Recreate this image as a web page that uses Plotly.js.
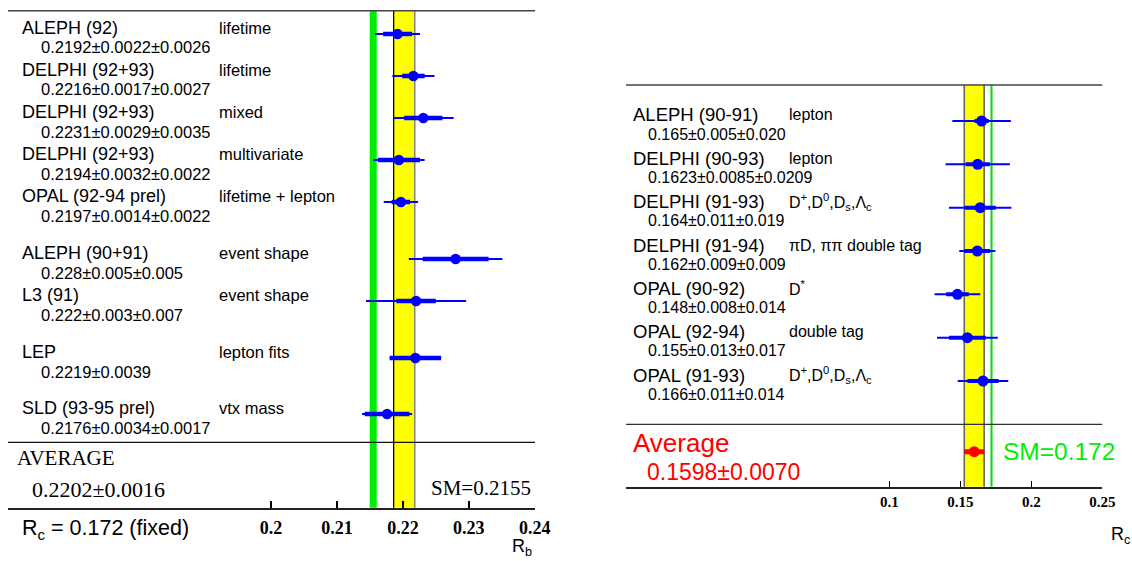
<!DOCTYPE html>
<html>
<head>
<meta charset="utf-8">
<script src="https://cdn.plot.ly/plotly-3.0.1.min.js"></script>
<style>html,body{margin:0;padding:0;background:#fff;}#chart{width:1132px;height:561px;}</style>
</head>
<body>
<div id="chart"></div>
<script>
// ---------------- DATA ----------------
// Left panel: R_b measurements (R_c = 0.172 fixed)
const rbNames   = ["ALEPH (92)", "DELPHI (92+93)", "DELPHI (92+93)", "DELPHI (92+93)", "OPAL (92-94 prel)", "ALEPH (90+91)", "L3 (91)", "LEP", "SLD (93-95 prel)"];
const rbMethods = ["lifetime", "lifetime", "mixed", "multivariate", "lifetime + lepton", "event shape", "event shape", "lepton fits", "vtx mass"];
const rbLabels  = ["0.2192±0.0022±0.0026", "0.2216±0.0017±0.0027", "0.2231±0.0029±0.0035", "0.2194±0.0032±0.0022", "0.2197±0.0014±0.0022", "0.228±0.005±0.005", "0.222±0.003±0.007", "0.2219±0.0039", "0.2176±0.0034±0.0017"];
const rbValues  = [0.2192, 0.2216, 0.2231, 0.2194, 0.2197, 0.228, 0.222, 0.2219, 0.2176];
const rbStat    = [0.0022, 0.0017, 0.0029, 0.0032, 0.0014, 0.005, 0.003, 0.0039, 0.0034];
const rbTotal   = [0.0034, 0.0032, 0.0046, 0.0039, 0.0026, 0.0071, 0.0076, 0.0039, 0.0038];
const rbAverage = 0.2202, rbAverageErr = 0.0016, rbSM = 0.2155;
const rbTicks   = [0.2, 0.21, 0.22, 0.23, 0.24];

// Right panel: R_c measurements
const rcNames   = ["ALEPH (90-91)", "DELPHI (90-93)", "DELPHI (91-93)", "DELPHI (91-94)", "OPAL (90-92)", "OPAL (92-94)", "OPAL (91-93)"];
const rcMethods = ["lepton", "lepton", "D<sup>+</sup>,D<sup>0</sup>,D<sub>s</sub>,Λ<sub>c</sub>", "πD, ππ double tag", "D<sup>*</sup>", "double tag", "D<sup>+</sup>,D<sup>0</sup>,D<sub>s</sub>,Λ<sub>c</sub>"];
const rcLabels  = ["0.165±0.005±0.020", "0.1623±0.0085±0.0209", "0.164±0.011±0.019", "0.162±0.009±0.009", "0.148±0.008±0.014", "0.155±0.013±0.017", "0.166±0.011±0.014"];
const rcValues  = [0.165, 0.1623, 0.164, 0.162, 0.148, 0.155, 0.166];
const rcStat    = [0.005, 0.0085, 0.011, 0.009, 0.008, 0.013, 0.011];
const rcTotal   = [0.0206, 0.0226, 0.0220, 0.0127, 0.0161, 0.0214, 0.0178];
const rcAverage = 0.1598, rcAverageErr = 0.0070, rcSM = 0.172;
const rcTicks   = [0.1, 0.15, 0.2, 0.25];

// ---------------- LAYOUT helpers ----------------
const W = 1132, H = 561;
const px = v => v / W;
const py = v => 1 - v / H;
const SANS = "Liberation Sans, Arial, Helvetica, sans-serif";
const SERIF = "Liberation Serif, Times New Roman, serif";
const BLUE = "#0000ff";

// vertical slots (pixel rows from the top) for each measurement line
const rbRowY = [34, 76, 118, 160, 202, 259, 301, 358, 414];
const rcRowY = [121, 164.3, 207.7, 251, 294.3, 337.7, 381];
const rcAvgY = 451.7;

// ---------------- TRACES ----------------
const traces = [
  { // left: total errors (thin)
    type: "scatter", mode: "markers", x: rbValues, y: rbRowY, xaxis: "x", yaxis: "y",
    marker: { size: 1, color: "rgba(0,0,0,0)" },
    error_x: { type: "data", array: rbTotal, visible: true, color: BLUE, thickness: 2, width: 0 },
    hoverinfo: "skip", showlegend: false
  },
  { // left: statistical errors (thick) + points
    type: "scatter", mode: "markers", x: rbValues, y: rbRowY, xaxis: "x", yaxis: "y",
    marker: { size: 10.5, color: BLUE },
    error_x: { type: "data", array: rbStat, visible: true, color: BLUE, thickness: 4.5, width: 0 },
    hoverinfo: "skip", showlegend: false
  },
  { // right: total errors (thin)
    type: "scatter", mode: "markers", x: rcValues, y: rcRowY, xaxis: "x2", yaxis: "y2",
    marker: { size: 1, color: "rgba(0,0,0,0)" },
    error_x: { type: "data", array: rcTotal, visible: true, color: BLUE, thickness: 2, width: 0 },
    hoverinfo: "skip", showlegend: false
  },
  { // right: statistical errors (thick) + points
    type: "scatter", mode: "markers", x: rcValues, y: rcRowY, xaxis: "x2", yaxis: "y2",
    marker: { size: 11, color: BLUE },
    error_x: { type: "data", array: rcStat, visible: true, color: BLUE, thickness: 4, width: 0 },
    hoverinfo: "skip", showlegend: false
  },
  { // right: average
    type: "scatter", mode: "markers", x: [rcAverage], y: [rcAvgY], xaxis: "x2", yaxis: "y2",
    marker: { size: 11, color: "#ff0000" },
    error_x: { type: "data", array: [rcAverageErr], visible: true, color: "#ff0000", thickness: 5, width: 0 },
    hoverinfo: "skip", showlegend: false
  }
];

// ---------------- SHAPES ----------------
const shapes = [
  // left bands
  { type: "rect", xref: "x", yref: "y domain", x0: rbAverage - rbAverageErr, x1: rbAverage + rbAverageErr, y0: 0, y1: 1,
    fillcolor: "#ffff00", line: { width: 0 }, layer: "below" },
  { type: "line", xref: "x", yref: "y domain", x0: rbAverage - rbAverageErr, x1: rbAverage - rbAverageErr, y0: 0, y1: 1,
    line: { color: "#000", width: 1.3 }, layer: "below" },
  { type: "line", xref: "x", yref: "y domain", x0: rbAverage + rbAverageErr, x1: rbAverage + rbAverageErr, y0: 0, y1: 1,
    line: { color: "#888", width: 1.6 }, layer: "below" },
  { type: "line", xref: "x", yref: "y domain", x0: rbSM, x1: rbSM, y0: 0, y1: 1,
    line: { color: "#00ee00", width: 7 }, layer: "below" },
  // left horizontal rules
  { type: "line", xref: "paper", yref: "paper", x0: px(8), x1: px(535), y0: py(10.7), y1: py(10.7), line: { color: "#444", width: 1.5 } },
  { type: "line", xref: "paper", yref: "paper", x0: px(8), x1: px(535), y0: py(442.3), y1: py(442.3), line: { color: "#111", width: 1.2 } },
  // right bands
  { type: "rect", xref: "x2", yref: "y2 domain", x0: rcAverage - rcAverageErr, x1: rcAverage + rcAverageErr, y0: 0, y1: 1,
    fillcolor: "#ffff00", line: { width: 0 }, layer: "below" },
  { type: "line", xref: "x2", yref: "y2 domain", x0: rcAverage - rcAverageErr, x1: rcAverage - rcAverageErr, y0: 0, y1: 1,
    line: { color: "#666", width: 1.6 }, layer: "below" },
  { type: "line", xref: "x2", yref: "y2 domain", x0: rcAverage + rcAverageErr, x1: rcAverage + rcAverageErr, y0: 0, y1: 1,
    line: { color: "#666", width: 1.6 }, layer: "below" },
  { type: "line", xref: "x2", yref: "y2 domain", x0: rcSM, x1: rcSM, y0: 0, y1: 1,
    line: { color: "#00e000", width: 2 }, layer: "below" },
  // right horizontal rules
  { type: "line", xref: "paper", yref: "paper", x0: px(626), x1: px(1102.3), y0: py(85), y1: py(85), line: { color: "#444", width: 1.5 } },
  { type: "line", xref: "paper", yref: "paper", x0: px(626), x1: px(1102.3), y0: py(424.3), y1: py(424.3), line: { color: "#333", width: 1.2 } }
];

// ---------------- ANNOTATIONS ----------------
const annotations = [];
function txt(text, x, y, size, opts) {
  annotations.push(Object.assign({
    text: text, x: x, y: y, xref: "paper", yref: "paper", xanchor: "left", yanchor: "middle",
    showarrow: false, font: { family: SANS, size: size, color: "#000" }
  }, opts || {}));
}
rbNames.forEach((n, i) => {
  txt(n, px(19.5), rbRowY[i], 18, { yref: "y", yshift: 6 });
  txt(rbMethods[i], px(216.5), rbRowY[i], 16.5, { yref: "y", yshift: 6 });
  txt(rbLabels[i], px(39), rbRowY[i], 16.5, { yref: "y", yshift: -13.5 });
});
rcNames.forEach((n, i) => {
  txt(n, px(631), rcRowY[i], 18.5, { yref: "y2", yshift: 6 });
  txt(rcMethods[i], px(787.5), rcRowY[i], 16, { yref: "y2", yshift: 6 });
  txt(rcLabels[i], px(645.5), rcRowY[i], 16, { yref: "y2", yshift: -13 });
});
// left average block
txt("AVERAGE", px(15), py(458), 21, { font: { family: SERIF, size: 21, color: "#000" } });
txt(rbAverage.toFixed(4) + "±" + rbAverageErr.toFixed(4), px(30), py(489), 22, { font: { family: SERIF, size: 22, color: "#000" } });
txt("SM=" + rbSM.toFixed(4), px(532.5), py(488), 21, { xanchor: "right", font: { family: SERIF, size: 21, color: "#000" } });
txt("R<sub>c</sub> = 0.172 (fixed)", px(20), py(529), 21.5);
txt("R<sub>b</sub>", px(534), py(547), 18, { xanchor: "right" });
// right average block
txt("Average", px(631), py(442.5), 26, { font: { family: SANS, size: 26, color: "#ff0000" } });
txt(rcAverage.toFixed(4) + "±" + rcAverageErr.toFixed(4), px(645), py(472), 23, { font: { family: SANS, size: 23, color: "#ff0000" } });
txt("SM=" + rcSM.toFixed(3), px(1001), py(451.7), 24.5, { font: { family: SANS, size: 24.5, color: "#00ee00" } });
txt("R<sub>c</sub>", px(1109), py(535), 18);

// ---------------- LAYOUT ----------------
const axisCommon = {
  showgrid: false, zeroline: false, showline: true, linecolor: "#222", linewidth: 2,
  ticks: "inside", ticklen: 7, tickwidth: 1.5, tickcolor: "#000", mirror: false, fixedrange: true
};
const layout = {
  width: W, height: H,
  margin: { l: 0, r: 0, t: 0, b: 0, pad: 0 },
  paper_bgcolor: "#fff", plot_bgcolor: "rgba(0,0,0,0)",
  showlegend: false, hovermode: false,
  xaxis: Object.assign({}, axisCommon, {
    domain: [px(8), px(534.7)], range: [0.16009, 0.24], anchor: "y",
    tickmode: "array", tickvals: rbTicks, ticktext: rbTicks.map(String),
    ticklabelstandoff: 3,
    tickfont: { family: SERIF, size: 18, color: "#000", weight: "bold" }
  }),
  yaxis: { domain: [py(507.7), py(10.7)], range: [507.7, 10.7], anchor: "x", visible: false, fixedrange: true },
  xaxis2: Object.assign({}, axisCommon, {
    domain: [px(626), px(1102.3)], range: [-0.0854, 0.25], anchor: "y2",
    tickmode: "array", tickvals: rcTicks, ticktext: rcTicks.map(String), ticklen: 6,
    tickfont: { family: SERIF, size: 15, color: "#000", weight: "bold" }
  }),
  yaxis2: { domain: [py(486.7), py(85)], range: [486.7, 85], anchor: "x2", visible: false, fixedrange: true },
  shapes: shapes,
  annotations: annotations
};

Plotly.newPlot("chart", traces, layout, { staticPlot: true, displayModeBar: false });
</script>
</body>
</html>
